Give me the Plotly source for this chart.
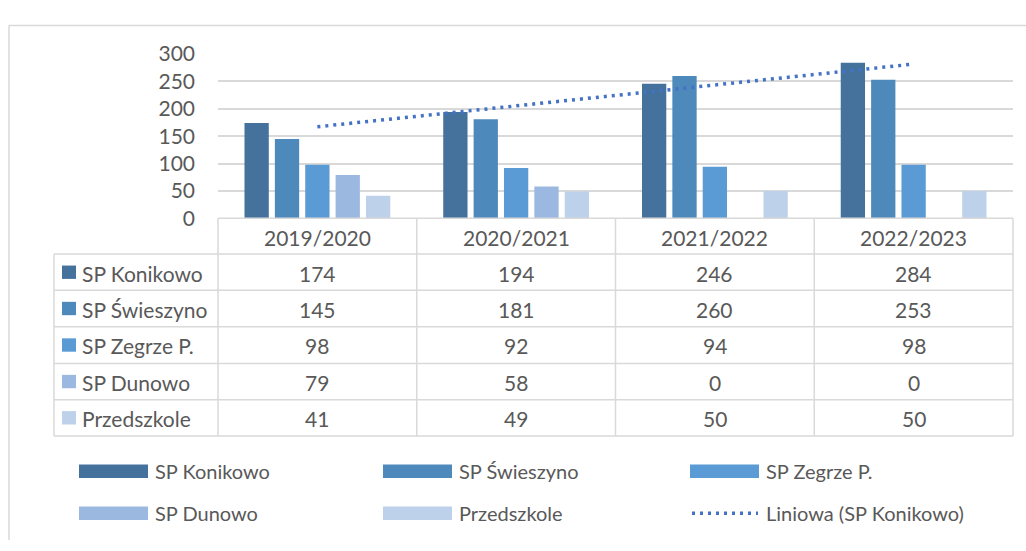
import numpy as np
import plotly.graph_objects as go

categories = ["2019/2020", "2020/2021", "2021/2022", "2022/2023"]
series_names = ["SP Konikowo", "SP Świeszyno", "SP Zegrze P.", "SP Dunowo", "Przedszkole"]
konikowo = [174, 194, 246, 284]
swieszyno = [145, 181, 260, 253]
zegrze = [98, 92, 94, 98]
dunowo = [79, 58, 0, 0]
przedszkole = [41, 49, 50, 50]
trend_name = "Liniowa (SP Konikowo)"
y_ticks = [0, 50, 100, 150, 200, 250, 300]

series_values = [konikowo, swieszyno, zegrze, dunowo, przedszkole]
colors = ["#44729D", "#4E89BC", "#5B9BD5", "#9BB9E0", "#BDD1EA"]
trend_color = "#4472C4"
grid = "#D9D9D9"
txt = "#595959"
FONT = "Lato"
FS = 21
FS_LEG = 20
DOT = "3px,5px"

W, H = 1026, 551
def px(x):
    return x / W
def py(y):
    return 1 - y / H

fig = go.Figure()
for name, vals, c in zip(series_names, series_values, colors):
    fig.add_trace(go.Bar(x=categories, y=vals, name=name, marker=dict(color=c, line=dict(width=0)),
                         showlegend=False))

# linear trendline for SP Konikowo
xi = np.arange(1, len(konikowo) + 1)
slope, intercept = np.polyfit(xi, konikowo, 1)
trend = slope * xi + intercept
fig.add_trace(go.Scatter(x=categories, y=trend, mode="lines", name=trend_name,
                         line=dict(color=trend_color, width=3.5, dash=DOT), showlegend=False))

X0, X1 = 218, 1013
Y0, Y1 = 214, 42
fig.update_layout(
    width=W, height=H, margin=dict(l=0, r=0, t=0, b=0),
    paper_bgcolor="white", plot_bgcolor="white",
    barmode="group", bargap=0.236, bargroupgap=0.2,
    font=dict(family=FONT, size=FS, color=txt),
    xaxis=dict(domain=[px(X0), px(X1)], showticklabels=False, showgrid=False, zeroline=False,
               showline=False, ticks=""),
    yaxis=dict(domain=[py(Y0), py(Y1)], range=[0, 300], tickvals=y_ticks, showgrid=True,
               gridcolor=grid, gridwidth=1.5, zeroline=False, showline=False,
               ticklabelstandoff=22, tickfont=dict(size=FS, color=txt, family=FONT)),
)

shapes = []
annotations = []
def line(x0, y0, x1, y1, color=grid, width=1.5, dash=None):
    d = dict(type="line", xref="paper", yref="paper", x0=px(x0), y0=py(y0), x1=px(x1), y1=py(y1),
             line=dict(color=color, width=width))
    if dash:
        d["line"]["dash"] = dash
    shapes.append(d)
def rect(x0, y0, x1, y1, color):
    shapes.append(dict(type="rect", xref="paper", yref="paper", x0=px(x0), y0=py(y0), x1=px(x1), y1=py(y1),
                       line=dict(width=0), fillcolor=color))
def text(x, y, s, anchor="center", size=FS):
    annotations.append(dict(x=px(x), y=py(y), xref="paper", yref="paper", text=s, showarrow=False,
                            xanchor=anchor, yanchor="middle", font=dict(family=FONT, size=size, color=txt)))

# outer chart border
line(9, 12, 1026, 12)
line(9, 12, 9, 551)

# data table
col_edges = [X0 + (X1 - X0) * i / len(categories) for i in range(len(categories) + 1)]
row_edges = [251.5, 289.5, 327.5, 366, 404, 442]
line(X0, Y0, X1, Y0)
for xe in col_edges:
    line(xe, Y0, xe, row_edges[-1])
line(54, row_edges[0], 54, row_edges[-1])
for ye in row_edges:
    line(54, ye, X1, ye)
for i, cat in enumerate(categories):
    text((col_edges[i] + col_edges[i + 1]) / 2, (Y0 + row_edges[0]) / 2 + 1, cat)
for r, (name, vals, c) in enumerate(zip(series_names, series_values, colors)):
    yc = (row_edges[r] + row_edges[r + 1]) / 2
    rect(62, yc - 7, 76, yc + 7, c)
    text(80, yc + 1, name, anchor="left")
    for i, v in enumerate(vals):
        text((col_edges[i] + col_edges[i + 1]) / 2, yc + 1, str(v))

# legend
leg_x = [79, 383, 690]
leg_y = [479, 523]
items = list(zip(series_names, colors)) + [(trend_name, None)]
for k, (name, c) in enumerate(items):
    x = leg_x[k % 3]
    y = leg_y[k // 3]
    if c is None:
        line(x + 2, y, x + 68, y, color=trend_color, width=3.5, dash=DOT)
    else:
        rect(x, y - 7, x + 69, y + 7, c)
    text(x + 74, y, name, anchor="left", size=FS_LEG)

fig.update_layout(shapes=shapes, annotations=annotations)
fig.write_html("out.html", config={"displayModeBar": False},
               post_script="document.body.style.margin='0';document.body.style.padding='0';")
